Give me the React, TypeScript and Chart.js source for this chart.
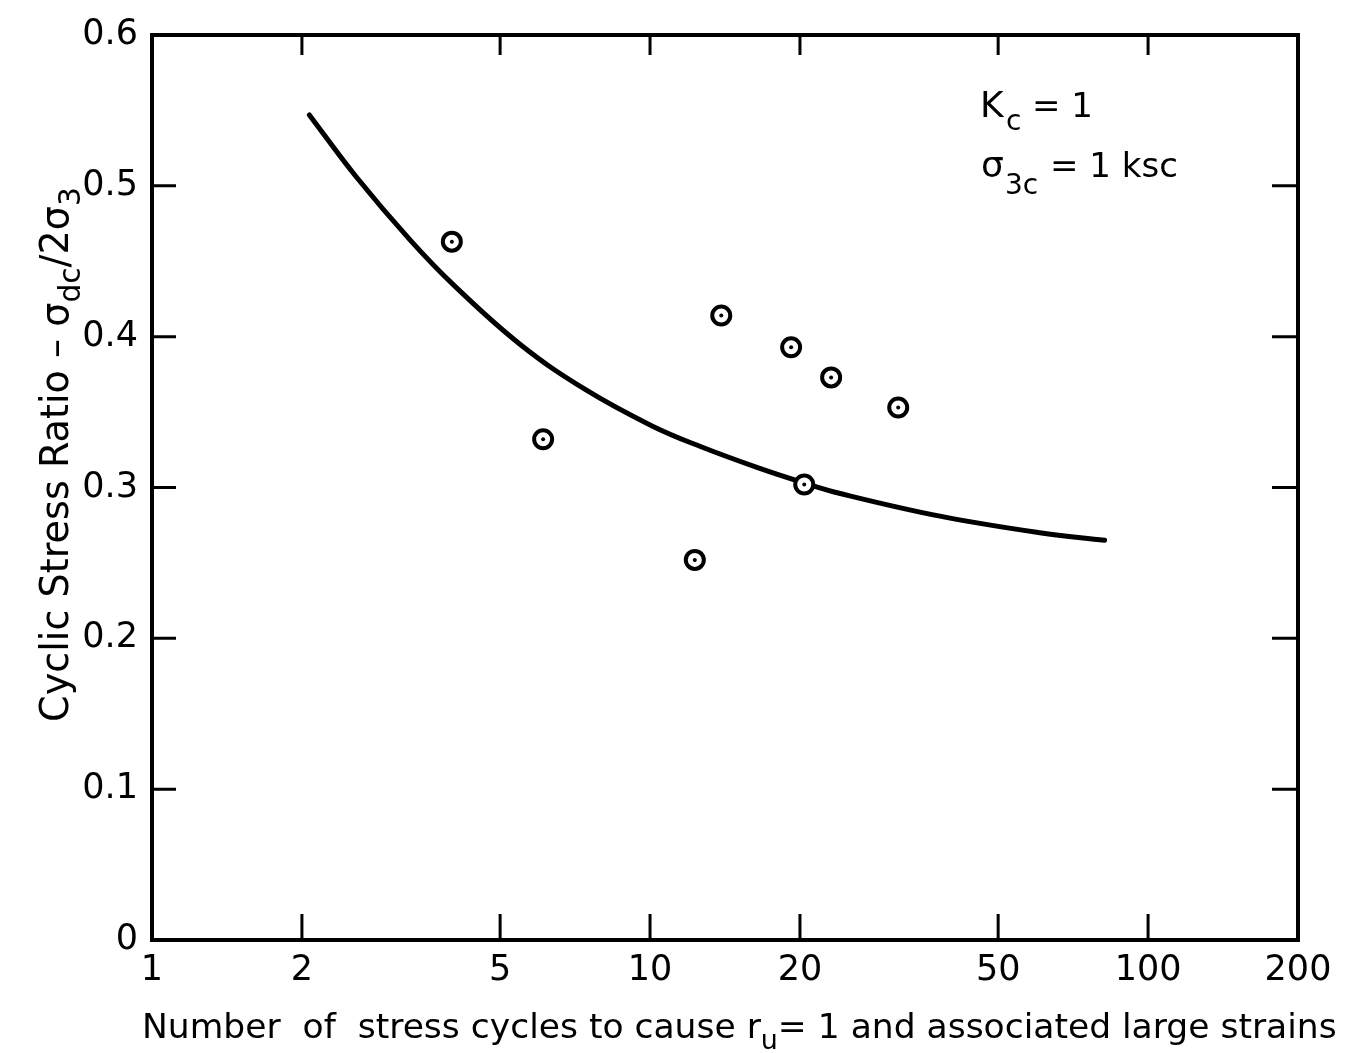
import { useEffect, useRef } from "react";
import { Chart, registerables } from "chart.js";

Chart.register(...registerables);

// ---- data ----
const xTickValues = [1, 2, 5, 10, 20, 50, 100, 200];
const yTickValues = [0, 0.1, 0.2, 0.3, 0.4, 0.5, 0.6];

// measured test points (number of cycles, cyclic stress ratio)
const testCycles = [4.0, 6.1, 12.3, 13.9, 19.2, 23.1, 20.4, 31.5];
const testRatios = [0.463, 0.332, 0.252, 0.414, 0.393, 0.373, 0.302, 0.353];

// fitted curve
const curveCycles = [2.07, 2.57, 3.3, 4.04, 5.48, 7.41, 10.07, 12.66, 16.5, 20.4, 24.1, 38.2, 60.6, 81.8];
const curveRatios = [0.547, 0.506, 0.464, 0.434, 0.395, 0.365, 0.341, 0.327, 0.313, 0.303, 0.296, 0.281, 0.27, 0.265];

const FONT = "'DejaVu Sans', 'Noto Sans', sans-serif";

type Part = { t: string; sub?: boolean };

function drawRich(ctx: CanvasRenderingContext2D, parts: Part[], x: number, y: number, size: number) {
  let cx = x;
  for (const p of parts) {
    const s = p.sub ? size * 0.78 : size;
    ctx.font = `${s}px ${FONT}`;
    ctx.fillText(p.t, cx, p.sub ? y + size * 0.32 : y);
    cx += ctx.measureText(p.t).width;
  }
}

function richWidth(ctx: CanvasRenderingContext2D, parts: Part[], size: number) {
  let w = 0;
  for (const p of parts) {
    const s = p.sub ? size * 0.78 : size;
    ctx.font = `${s}px ${FONT}`;
    w += ctx.measureText(p.t).width;
  }
  return w;
}

const xTitle: Part[] = [
  { t: "Number  of  stress cycles to cause r" },
  { t: "u", sub: true },
  { t: "= 1 and associated large strains" },
];
const yTitle: Part[] = [
  { t: "Cyclic Stress Ratio – σ" },
  { t: "dc", sub: true },
  { t: "/2σ" },
  { t: "3", sub: true },
];

const framePlugin = {
  id: "frame",
  afterDraw(chart: any) {
    const { ctx, chartArea: a, scales } = chart;
    const xs = scales.x;
    const ys = scales.y;
    ctx.save();
    ctx.strokeStyle = "#000";
    ctx.fillStyle = "#000";
    ctx.lineWidth = 4;
    ctx.strokeRect(a.left, a.top, a.right - a.left, a.bottom - a.top);
    ctx.lineWidth = 3;
    ctx.beginPath();
    for (const v of xTickValues) {
      if (v === 1 || v === 200) continue;
      const px = xs.getPixelForValue(v);
      ctx.moveTo(px, a.bottom);
      ctx.lineTo(px, a.bottom - 26);
      ctx.moveTo(px, a.top);
      ctx.lineTo(px, a.top + 20);
    }
    for (const v of yTickValues) {
      if (v === 0 || v === 0.6) continue;
      const py = ys.getPixelForValue(v);
      ctx.moveTo(a.left, py);
      ctx.lineTo(a.left + 24, py);
      ctx.moveTo(a.right, py);
      ctx.lineTo(a.right - 26, py);
    }
    ctx.stroke();

    // x-axis title
    ctx.textBaseline = "alphabetic";
    ctx.textAlign = "left";
    const xw0 = richWidth(ctx, xTitle, 30);
    const xSize = (30 * 1195) / xw0;
    drawRich(ctx, xTitle, 142, 1038, xSize);

    // y-axis title (rotated)
    const yw0 = richWidth(ctx, yTitle, 30);
    const ySize = (30 * 535) / yw0;
    ctx.save();
    ctx.translate(68, 722);
    ctx.rotate(-Math.PI / 2);
    drawRich(ctx, yTitle, 0, 0, ySize);
    ctx.restore();

    // annotation
    ctx.font = `36px ${FONT}`;
    ctx.fillText("K", 980, 117);
    ctx.font = `28px ${FONT}`;
    ctx.fillText("c", 1006, 130);
    ctx.font = `34px ${FONT}`;
    ctx.fillText("= 1", 1032, 117);
    ctx.font = `36px ${FONT}`;
    ctx.fillText("σ", 981, 177);
    ctx.font = `28px ${FONT}`;
    ctx.fillText("3c", 1005, 194);
    ctx.font = `34px ${FONT}`;
    ctx.fillText("= 1 ksc", 1050, 177);
    ctx.restore();
  },
};

export default function App() {
  const ref = useRef<HTMLCanvasElement | null>(null);

  useEffect(() => {
    if (!ref.current) return;
    const tickFont = { family: FONT, size: 35 };
    const chart = new Chart(ref.current, {
      type: "scatter",
      data: {
        datasets: [
          {
            label: "centre dots",
            data: testCycles.map((x, i) => ({ x, y: testRatios[i] })),
            pointRadius: 2,
            pointBackgroundColor: "#000",
            pointBorderWidth: 0,
            showLine: false,
          },
          {
            label: "tests",
            data: testCycles.map((x, i) => ({ x, y: testRatios[i] })),
            pointRadius: 9,
            pointBackgroundColor: "#fff",
            pointBorderColor: "#000",
            pointBorderWidth: 4,
            showLine: false,
          },
          {
            label: "curve",
            data: curveCycles.map((x, i) => ({ x, y: curveRatios[i] })),
            showLine: true,
            borderColor: "#000",
            borderWidth: 5,
            pointRadius: 0,
            tension: 0.4,
            borderCapStyle: "round",
          } as any,
        ],
      },
      options: {
        animation: false,
        responsive: false,
        devicePixelRatio: 1,
        layout: { padding: { top: 28, right: 58, left: 0, bottom: 0 } },
        plugins: { legend: { display: false }, tooltip: { enabled: false } },
        scales: {
          x: {
            type: "logarithmic",
            min: 1,
            max: 200,
            afterBuildTicks: (s: any) => {
              s.ticks = xTickValues.map((v) => ({ value: v }));
            },
            afterFit: (s: any) => {
              s.height = 113;
            },
            ticks: {
              autoSkip: false,
              maxRotation: 0,
              padding: 10,
              color: "#000",
              font: tickFont,
              callback: (v: any) => String(v),
            },
            grid: { display: false, drawTicks: false },
            border: { display: false },
          },
          y: {
            type: "linear",
            min: 0,
            max: 0.6,
            afterBuildTicks: (s: any) => {
              s.ticks = yTickValues.map((v) => ({ value: v }));
            },
            afterFit: (s: any) => {
              s.width = 152;
            },
            ticks: {
              padding: 14,
              color: "#000",
              font: tickFont,
              callback: (v: any) => (Number(v) === 0 ? "0" : Number(v).toFixed(1)),
            },
            grid: { display: false, drawTicks: false },
            border: { display: false },
          },
        },
      },
      plugins: [framePlugin],
    });
    return () => chart.destroy();
  }, []);

  return (
    <div style={{ position: "fixed", left: 0, top: 0, width: 1356, height: 1053, background: "#fff" }}>
      <canvas ref={ref} width={1356} height={1053} style={{ display: "block" }} />
    </div>
  );
}
